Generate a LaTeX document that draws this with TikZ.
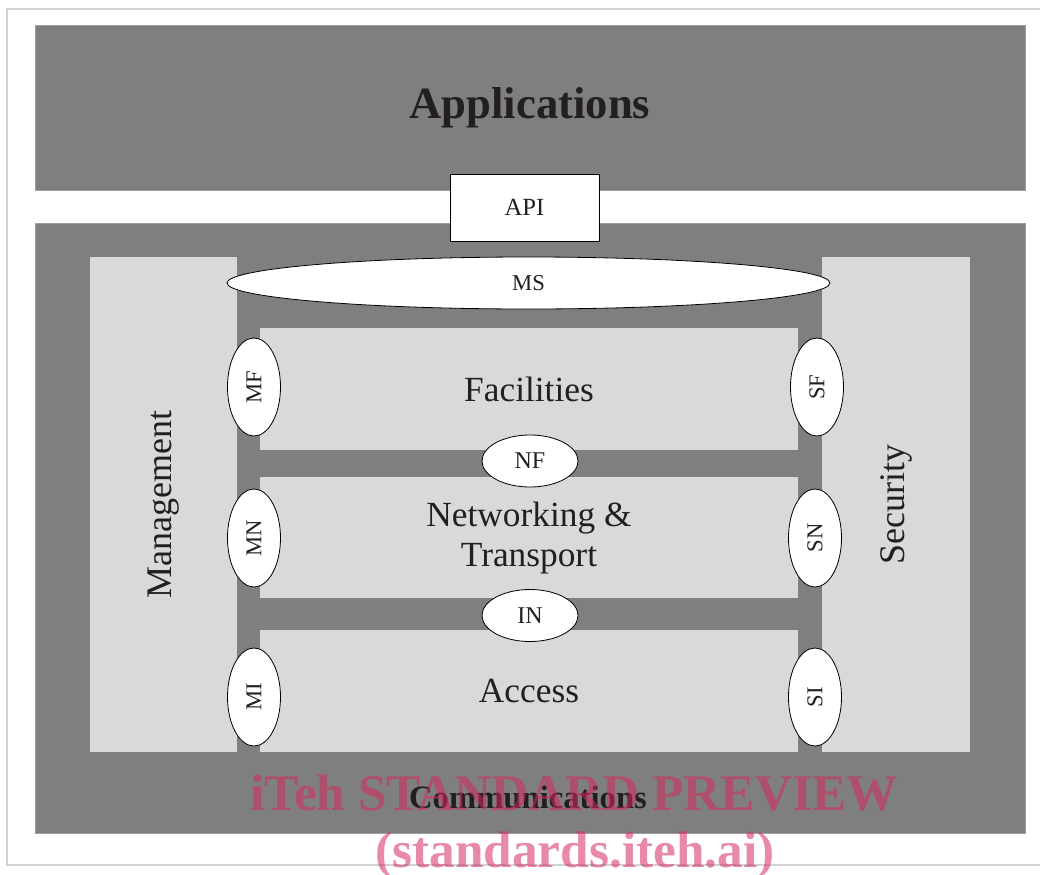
\documentclass[tikz,border=0pt]{standalone}
\usepackage{fontspec}
\setmainfont{Liberation Serif}
\usetikzlibrary{shapes.geometric}

\definecolor{darkfill}{RGB}{127,127,127}
\definecolor{lightfill}{RGB}{217,217,217}
\definecolor{frameline}{RGB}{208,210,214}
\definecolor{inktext}{RGB}{35,31,32}
\definecolor{stampink}{RGB}{214,40,94}

\tikzset{
  layerbox/.style={rectangle, fill=darkfill, draw=darkfill!75!white, line width=0.6pt, inner sep=0pt},
  planebox/.style={rectangle, fill=lightfill, inner sep=0pt, text=inktext},
  tagoval/.style={ellipse, fill=white, draw=black, line width=0.6pt, inner sep=0pt, text=inktext},
  sidetag/.style={tagoval, rotate=90, minimum width=73.5pt, minimum height=39.75pt, font=\fontsize{17}{20}\selectfont},
  gaptag/.style={tagoval, minimum width=72pt, minimum height=39pt, font=\fontsize{18}{21}\selectfont},
  stamptext/.style={text=stampink, text opacity=0.55, font=\fontsize{38.5}{42}\selectfont\bfseries, inner sep=0pt}
}

\begin{document}
\begin{tikzpicture}[x=0.75pt,y=0.75pt,yscale=-1,xscale=1]
\useasboundingbox (0,0) rectangle (1040,875);

% Page frame
\draw[frameline, line width=1.2pt] (1045,9) -- (7,9) -- (7,865) -- (1045,865);

% Layers
\node[layerbox, minimum width=742.5pt, minimum height=123.75pt, text=inktext,
      font=\fontsize{33.5}{38}\selectfont\bfseries] (apps) at (530,107.5) {Applications};
\node[layerbox, minimum width=742.5pt, minimum height=457.5pt] (comms) at (530,528) {};
\node[text=inktext, font=\fontsize{24.5}{28}\selectfont\bfseries] (commstext) at (528,797) {Communications};

% Side planes
\node[planebox, rotate=90, minimum width=371.25pt, minimum height=110.25pt,
      font=\fontsize{27}{30}\selectfont] (mgmt) at (163.5,504.5) {Management};
\node[planebox, rotate=90, minimum width=371.25pt, minimum height=111pt,
      font=\fontsize{27}{30}\selectfont] (sec) at (896,504.5) {Security};

% Management/security interface
\node[tagoval, minimum width=452.25pt, minimum height=39pt, font=\fontsize{17}{20}\selectfont] (ms) at (528.5,283) {MS};

% Stack
\node[planebox, minimum width=403.5pt, minimum height=91.5pt, font=\fontsize{26.5}{30}\selectfont] (fac) at (529,389) {Facilities};
\node[planebox, minimum width=403.5pt, minimum height=90.75pt, font=\fontsize{26.5}{30}\selectfont,
      align=center] (net) at (529,537.5) {Networking \&\\Transport};
\node[planebox, minimum width=403.5pt, minimum height=91.5pt, font=\fontsize{26.5}{30}\selectfont] (acc) at (529,691) {Access};

% Interfaces
\node[sidetag] (mf) at (254,387) {MF};
\node[sidetag] (mn) at (254,538) {MN};
\node[sidetag] (mi) at (254,697) {MI};
\node[sidetag] (sf) at (817,387) {SF};
\node[sidetag] (sn) at (815,538) {SN};
\node[sidetag] (si) at (815,697) {SI};
\node[gaptag] (nf) at (530,461) {NF};
\node[gaptag] (in) at (530,615.5) {IN};

% API
\node[rectangle, fill=white, draw=black, line width=0.7pt, minimum width=111.75pt, minimum height=50.25pt,
      text=inktext, font=\fontsize{18.5}{22}\selectfont] (api) at (524.5,207.5) {API};

% Watermark
\node[stamptext, anchor=base] (stampa) at (574,810) {iTeh STANDARD PREVIEW};
\node[stamptext, anchor=base] (stampb) at (575,867) {(standards.iteh.ai)};

\end{tikzpicture}
\end{document}
